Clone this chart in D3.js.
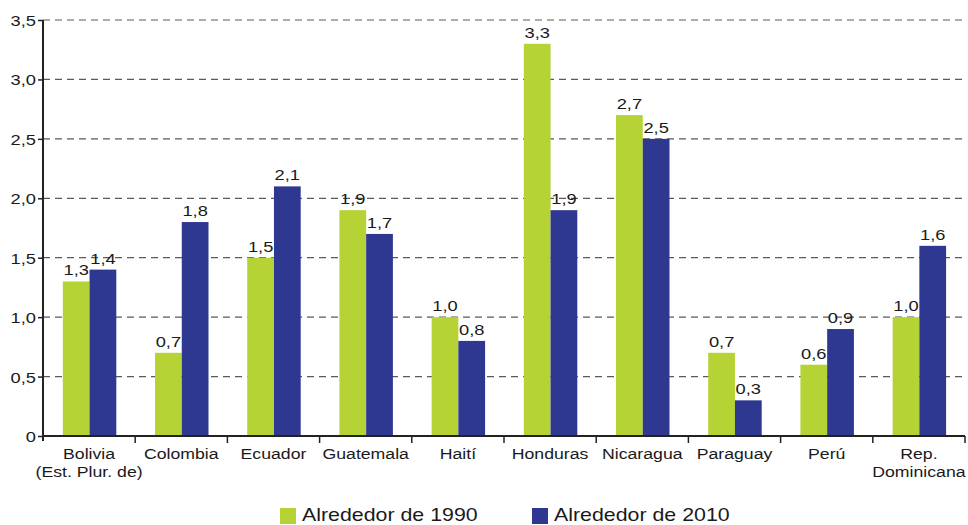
<!DOCTYPE html>
<html>
<head>
<meta charset="utf-8">
<script src="https://cdn.jsdelivr.net/npm/d3@7"></script>
<style>
  body { margin: 0; background: #fff; }
  text { font-family: "Liberation Sans", Arial, sans-serif; fill: #1a1a1a; }
</style>
</head>
<body>
<div class="canvas"></div>
<script>
// data
const categories = ['Bolivia\n(Est. Plur. de)', 'Colombia', 'Ecuador', 'Guatemala', 'Haití',
    'Honduras', 'Nicaragua', 'Paraguay', 'Perú', 'Rep.\nDominicana'];
const seriesNames = ['Alrededor de 1990', 'Alrededor de 2010'];
const values1990 = [1.3, 0.7, 1.5, 1.9, 1.0, 3.3, 2.7, 0.7, 0.6, 1.0];
const values2010 = [1.4, 1.8, 2.1, 1.7, 0.8, 1.9, 2.5, 0.3, 0.9, 1.6];
const yTicks = [0, 0.5, 1.0, 1.5, 2.0, 2.5, 3.0, 3.5];
const colors = ['#b5d334', '#2e3890'];

const width = 968, height = 525;
const margin = { top: 20, right: 3, bottom: 89, left: 43 };
const graphWidth = width - margin.left - margin.right;
const graphHeight = height - margin.top - margin.bottom;
const sx = 1.22; // the original text is a bit wide

const svg = d3.select('.canvas')
    .append('svg')
    .attr('width', width)
    .attr('height', height);

const graph = svg.append('g')
    .attr('transform', `translate(${margin.left}, ${margin.top})`);

// scales
const y = d3.scaleLinear().domain([0, 3.5]).range([graphHeight, 0]);
const x = d3.scaleBand().domain(categories).range([0, graphWidth]).padding(0);
const xInner = d3.scaleBand().domain([0, 1])
    .range([x.bandwidth() * 0.215, x.bandwidth() * 0.795]);

const fmt = v => v === 0 ? '0' : d3.format('.1f')(v).replace('.', ',');

// put a text at (px, py) and widen it around its anchor
const placeText = (sel, px, py) => sel
    .attr('x', 0).attr('y', 0)
    .attr('transform', (d, i) => `translate(${px(d, i)}, ${py(d, i)}) scale(${sx}, 1)`);

// gridlines
graph.append('g')
    .selectAll('line')
    .data(yTicks.filter(d => d > 0))
    .enter().append('line')
    .attr('x1', 0)
    .attr('x2', graphWidth)
    .attr('y1', d => y(d))
    .attr('y2', d => y(d))
    .attr('stroke', '#5a5a5a')
    .attr('stroke-width', 1.2)
    .attr('stroke-dasharray', '7,5');

// bars
const rows = categories.map((c, i) => ({ cat: c, vals: [values1990[i], values2010[i]] }));

const groups = graph.selectAll('g.cat')
    .data(rows)
    .enter().append('g')
    .attr('class', 'cat')
    .attr('transform', d => `translate(${x(d.cat)}, 0)`);

groups.selectAll('rect')
    .data(d => d.vals)
    .enter().append('rect')
    .attr('x', (d, i) => xInner(i))
    .attr('width', xInner.bandwidth())
    .attr('y', d => y(d))
    .attr('height', d => graphHeight - y(d))
    .attr('fill', (d, i) => colors[i]);

groups.selectAll('text.val')
    .data(d => d.vals)
    .enter().append('text')
    .attr('class', 'val')
    .attr('text-anchor', 'middle')
    .attr('font-size', 15)
    .call(placeText, (d, i) => xInner(i) + xInner.bandwidth() / 2, d => y(d) - 6)
    .text(d => fmt(d));

// y axis
const yAxisGroup = graph.append('g')
    .call(d3.axisLeft(y).tickValues(yTicks).tickFormat(fmt).tickSize(5).tickPadding(2));
yAxisGroup.select('.domain').attr('stroke', '#222').attr('stroke-width', 2).attr('d', `M0,0V${graphHeight + 5}`);
yAxisGroup.selectAll('.tick line').attr('stroke', '#222').attr('stroke-width', 1.5);
yAxisGroup.selectAll('text')
    .attr('font-size', 15)
    .attr('font-family', '"Liberation Sans", Arial, sans-serif')
    .attr('fill', '#1a1a1a')
    .attr('dy', null)
    .call(placeText, () => -7, () => 5.5);

// x axis
const xAxisGroup = graph.append('g')
    .attr('transform', `translate(0, ${graphHeight})`);
xAxisGroup.append('line')
    .attr('x1', 0).attr('x2', graphWidth)
    .attr('stroke', '#222').attr('stroke-width', 2);
xAxisGroup.selectAll('line.tk')
    .data(categories.map(c => x(c) + x.bandwidth()))
    .enter().append('line')
    .attr('class', 'tk')
    .attr('x1', d => d).attr('x2', d => d)
    .attr('y1', 0).attr('y2', 7)
    .attr('stroke', '#222').attr('stroke-width', 1.5);

xAxisGroup.selectAll('text.cat')
    .data(categories)
    .enter().append('text')
    .attr('class', 'cat')
    .attr('text-anchor', 'middle')
    .attr('font-size', 14.5)
    .call(placeText, d => x(d) + x.bandwidth() / 2, () => 23)
    .each(function (d) {
        d.split('\n').forEach((line, i) => {
            d3.select(this).append('tspan')
                .attr('x', 0)
                .attr('dy', i === 0 ? 0 : 18)
                .text(line);
        });
    });

// legend
const legend = svg.append('g');
const legendX = [280, 532];
legend.selectAll('rect')
    .data(seriesNames)
    .enter().append('rect')
    .attr('x', (d, i) => legendX[i]).attr('y', 508)
    .attr('width', 16).attr('height', 16)
    .attr('fill', (d, i) => colors[i]);
legend.selectAll('text')
    .data(seriesNames)
    .enter().append('text')
    .attr('font-size', 17.5)
    .call(placeText, (d, i) => legendX[i] + 22, () => 521)
    .text(d => d);
</script>
</body>
</html>
